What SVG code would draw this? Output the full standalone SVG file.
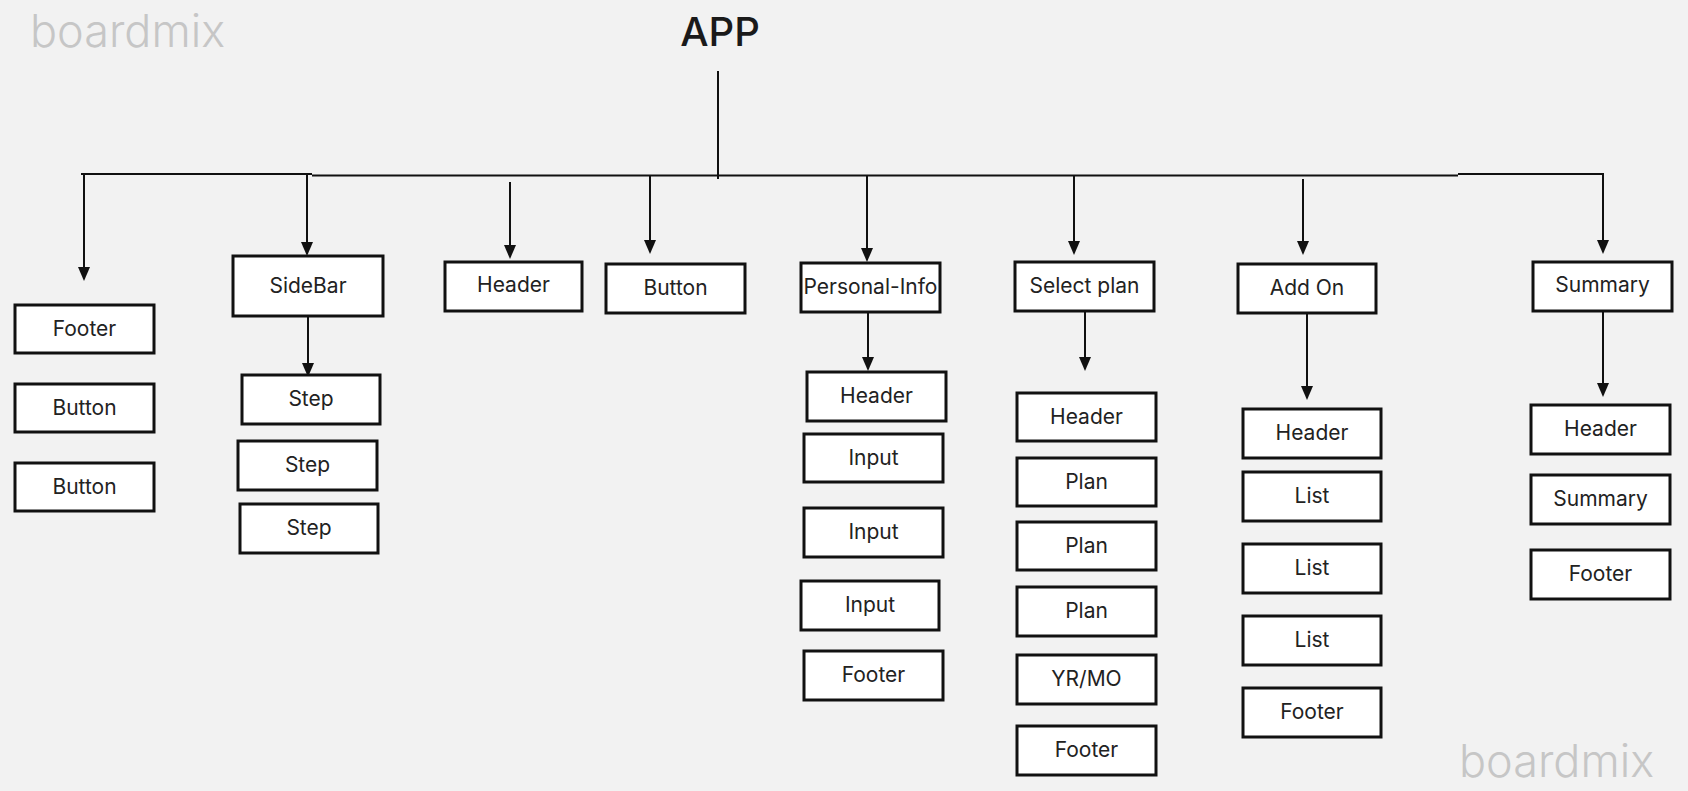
<svg xmlns="http://www.w3.org/2000/svg" width="1688" height="791" viewBox="0 0 1688 791">
<style>
.bg{fill:#f2f2f2}
.box{fill:#ffffff;stroke:#111111;stroke-width:3}
.lbl{font-family:Inter,"Noto Sans","Liberation Sans",sans-serif;font-size:21px;font-weight:400;fill:#222222;text-anchor:middle}
.wm{font-family:Inter,"Noto Sans","Liberation Sans",sans-serif;font-size:45px;font-weight:300;fill:#c6c6c6}
.title{font-family:Inter,"Noto Sans","Liberation Sans",sans-serif;font-size:40px;font-weight:500;fill:#1a1a1a;text-anchor:middle}
.ln{stroke:#111111;stroke-width:2;fill:none}
.ah{fill:#111111}
</style>
<rect class="bg" x="0" y="0" width="1688" height="791"/>
<text class="wm" x="30" y="47">boardmix</text>
<text class="wm" x="1459" y="777">boardmix</text>
<g id="app"><text class="title" x="720" y="46">APP</text></g>

<g id="connectors">
<line class="ln" x1="718" y1="71" x2="718" y2="179"/>
<line class="ln" x1="81" y1="174" x2="312" y2="174"/>
<line class="ln" x1="312" y1="175.5" x2="1458" y2="175.5"/>
<line class="ln" x1="1458" y1="174" x2="1604" y2="174"/>
<line class="ln" x1="84" y1="174" x2="84" y2="268"/>
<path class="ah" d="M78,267 L90,267 L84,281 Z"/>
<line class="ln" x1="307" y1="175" x2="307" y2="243"/>
<path class="ah" d="M301,242 L313,242 L307,256 Z"/>
<line class="ln" x1="510" y1="182" x2="510" y2="246"/>
<path class="ah" d="M504,245 L516,245 L510,259 Z"/>
<line class="ln" x1="650" y1="175" x2="650" y2="241"/>
<path class="ah" d="M644,240 L656,240 L650,254 Z"/>
<line class="ln" x1="867" y1="175" x2="867" y2="249"/>
<path class="ah" d="M861,248 L873,248 L867,262 Z"/>
<line class="ln" x1="1074" y1="175" x2="1074" y2="242"/>
<path class="ah" d="M1068,241 L1080,241 L1074,255 Z"/>
<line class="ln" x1="1303" y1="179" x2="1303" y2="242"/>
<path class="ah" d="M1297,241 L1309,241 L1303,255 Z"/>
<line class="ln" x1="1603" y1="174" x2="1603" y2="241"/>
<path class="ah" d="M1597,240 L1609,240 L1603,254 Z"/>
<line class="ln" x1="308" y1="317" x2="308" y2="364"/>
<path class="ah" d="M302,363 L314,363 L308,377 Z"/>
<line class="ln" x1="868" y1="312" x2="868" y2="358"/>
<path class="ah" d="M862,357 L874,357 L868,371 Z"/>
<line class="ln" x1="1085" y1="311" x2="1085" y2="358"/>
<path class="ah" d="M1079,357 L1091,357 L1085,371 Z"/>
<line class="ln" x1="1307" y1="313" x2="1307" y2="387"/>
<path class="ah" d="M1301,386 L1313,386 L1307,400 Z"/>
<line class="ln" x1="1603" y1="311" x2="1603" y2="384"/>
<path class="ah" d="M1597,383 L1609,383 L1603,397 Z"/>
</g>

<g id="n-footer1"><rect class="box" x="15" y="305" width="139" height="48"/><text class="lbl" x="84.5" y="336">Footer</text></g>
<g id="n-button1"><rect class="box" x="15" y="384" width="139" height="48"/><text class="lbl" x="84.5" y="415">Button</text></g>
<g id="n-button2"><rect class="box" x="15" y="463" width="139" height="48"/><text class="lbl" x="84.5" y="494">Button</text></g>

<g id="n-sidebar"><rect class="box" x="233" y="256" width="150" height="60"/><text class="lbl" x="308" y="293">SideBar</text></g>
<g id="n-step1"><rect class="box" x="242" y="375" width="138" height="49"/><text class="lbl" x="311" y="406">Step</text></g>
<g id="n-step2"><rect class="box" x="238" y="441" width="139" height="49"/><text class="lbl" x="307.5" y="472">Step</text></g>
<g id="n-step3"><rect class="box" x="240" y="504" width="138" height="49"/><text class="lbl" x="309" y="535">Step</text></g>

<g id="n-header"><rect class="box" x="445" y="262" width="137" height="49"/><text class="lbl" x="513.5" y="292">Header</text></g>
<g id="n-button"><rect class="box" x="606" y="264" width="139" height="49"/><text class="lbl" x="675.5" y="295">Button</text></g>

<g id="n-personal"><rect class="box" x="801" y="263" width="139" height="49"/><text class="lbl" x="870.5" y="294">Personal-Info</text></g>
<g id="n-pi-header"><rect class="box" x="807" y="372" width="139" height="49"/><text class="lbl" x="876.5" y="403">Header</text></g>
<g id="n-pi-input1"><rect class="box" x="804" y="434" width="139" height="48"/><text class="lbl" x="873.5" y="465">Input</text></g>
<g id="n-pi-input2"><rect class="box" x="804" y="508" width="139" height="49"/><text class="lbl" x="873.5" y="539">Input</text></g>
<g id="n-pi-input3"><rect class="box" x="801" y="581" width="138" height="49"/><text class="lbl" x="870" y="612">Input</text></g>
<g id="n-pi-footer"><rect class="box" x="804" y="651" width="139" height="49"/><text class="lbl" x="873.5" y="682">Footer</text></g>

<g id="n-select"><rect class="box" x="1015" y="262" width="139" height="49"/><text class="lbl" x="1084.5" y="293">Select plan</text></g>
<g id="n-sp-header"><rect class="box" x="1017" y="393" width="139" height="48"/><text class="lbl" x="1086.5" y="424">Header</text></g>
<g id="n-sp-plan1"><rect class="box" x="1017" y="458" width="139" height="48"/><text class="lbl" x="1086.5" y="489">Plan</text></g>
<g id="n-sp-plan2"><rect class="box" x="1017" y="522" width="139" height="48"/><text class="lbl" x="1086.5" y="553">Plan</text></g>
<g id="n-sp-plan3"><rect class="box" x="1017" y="587" width="139" height="49"/><text class="lbl" x="1086.5" y="618">Plan</text></g>
<g id="n-sp-yrmo"><rect class="box" x="1017" y="655" width="139" height="49"/><text class="lbl" x="1086.5" y="686">YR/MO</text></g>
<g id="n-sp-footer"><rect class="box" x="1017" y="726" width="139" height="49"/><text class="lbl" x="1086.5" y="757">Footer</text></g>

<g id="n-addon"><rect class="box" x="1238" y="264" width="138" height="49"/><text class="lbl" x="1307" y="295">Add On</text></g>
<g id="n-ao-header"><rect class="box" x="1243" y="409" width="138" height="49"/><text class="lbl" x="1312" y="440">Header</text></g>
<g id="n-ao-list1"><rect class="box" x="1243" y="472" width="138" height="49"/><text class="lbl" x="1312" y="503">List</text></g>
<g id="n-ao-list2"><rect class="box" x="1243" y="544" width="138" height="49"/><text class="lbl" x="1312" y="575">List</text></g>
<g id="n-ao-list3"><rect class="box" x="1243" y="616" width="138" height="49"/><text class="lbl" x="1312" y="647">List</text></g>
<g id="n-ao-footer"><rect class="box" x="1243" y="688" width="138" height="49"/><text class="lbl" x="1312" y="719">Footer</text></g>

<g id="n-summary"><rect class="box" x="1533" y="262" width="139" height="49"/><text class="lbl" x="1602.5" y="292">Summary</text></g>
<g id="n-su-header"><rect class="box" x="1531" y="405" width="139" height="49"/><text class="lbl" x="1600.5" y="436">Header</text></g>
<g id="n-su-summary"><rect class="box" x="1531" y="475" width="139" height="49"/><text class="lbl" x="1600.5" y="506">Summary</text></g>
<g id="n-su-footer"><rect class="box" x="1531" y="550" width="139" height="49"/><text class="lbl" x="1600.5" y="581">Footer</text></g>
</svg>
